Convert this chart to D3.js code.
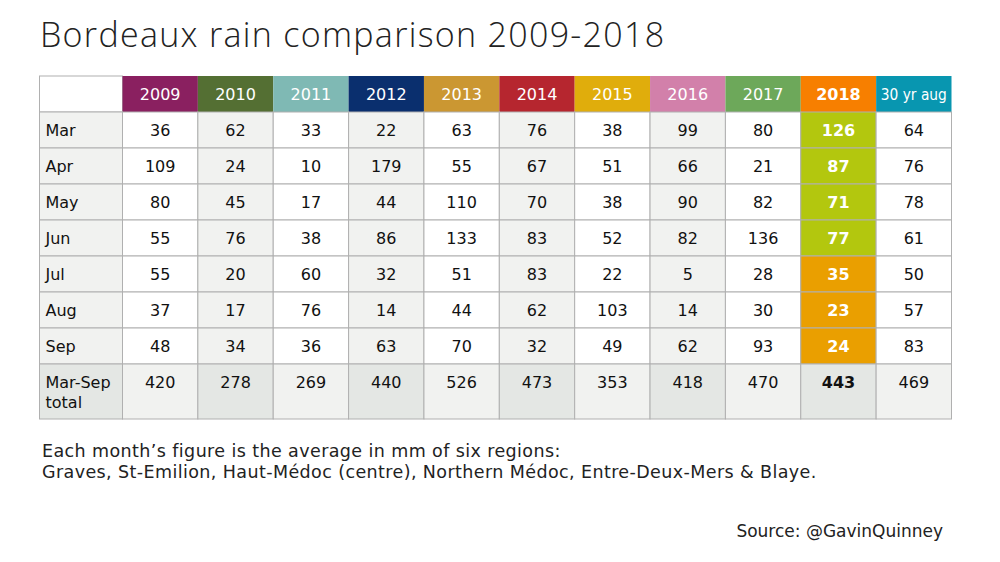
<!DOCTYPE html>
<html lang="en">
<head>
    <meta charset="UTF-8">
    <title>Bordeaux rain comparison 2009-2018</title>
    <script src="https://d3js.org/d3.v7.min.js"></script>
    <style>
        body {
            margin: 0;
            background: #fff;
            font-family: 'DejaVu Sans', sans-serif;
        }
        .cell-text {
            font-size: 16px;
            fill: #111;
        }
    </style>
</head>
<body>
<svg id="chart" width="1000" height="562"></svg>

<script>
    // Data
    const years = ["2009", "2010", "2011", "2012", "2013", "2014", "2015", "2016", "2017", "2018", "30 yr aug"];
    const months = ["Mar", "Apr", "May", "Jun", "Jul", "Aug", "Sep"];
    const rain = {
        "2009":      [36, 109, 80, 55, 55, 37, 48],
        "2010":      [62, 24, 45, 76, 20, 17, 34],
        "2011":      [33, 10, 17, 38, 60, 76, 36],
        "2012":      [22, 179, 44, 86, 32, 14, 63],
        "2013":      [63, 55, 110, 133, 51, 44, 70],
        "2014":      [76, 67, 70, 83, 83, 62, 32],
        "2015":      [38, 51, 38, 52, 22, 103, 49],
        "2016":      [99, 66, 90, 82, 5, 14, 62],
        "2017":      [80, 21, 82, 136, 28, 30, 93],
        "2018":      [126, 87, 71, 77, 35, 23, 24],
        "30 yr aug": [64, 76, 78, 61, 50, 57, 83]
    };
    const totals = [420, 278, 269, 440, 526, 473, 353, 418, 470, 443, 469];
    const headerColors = ["#8a2060", "#546f33", "#7fb9b4", "#0a2f6e", "#cb9732", "#b6262f",
                          "#e0ad0c", "#d280aa", "#6da85a", "#f77f00", "#0896b0"];

    const svg = d3.select("#chart");

    // title
    svg.append("text")
        .attr("x", 40)
        .attr("y", 47)
        .attr("font-family", "'Open Sans', sans-serif")
        .attr("font-size", 34)
        .attr("font-weight", 300)
        .attr("letter-spacing", 1.3)
        .attr("fill", "#222")
        .text("Bordeaux rain comparison 2009-2018");

    // layout scales
    const left = 39.5, labelW = 83, right = 951.5;
    const x = d3.scaleBand().domain(years).range([left + labelW, right]);
    const rowKeys = ["head"].concat(months);
    const y = d3.scaleBand().domain(rowKeys).range([76, 364]);
    const totalTop = 364, totalBottom = 419;

    const grid = "#b0b0b0";
    const light = "#f1f2f0", dark = "#e4e7e4";

    // header row
    svg.append("rect")
        .attr("x", left).attr("y", y("head"))
        .attr("width", labelW).attr("height", y.bandwidth())
        .attr("fill", "#fff").attr("stroke", grid);

    svg.selectAll(".head")
        .data(years)
        .join("rect")
        .attr("x", d => x(d)).attr("y", y("head"))
        .attr("width", x.bandwidth()).attr("height", y.bandwidth())
        .attr("fill", (d, i) => headerColors[i]);

    svg.selectAll(".head-text")
        .data(years)
        .join("text")
        .attr("x", d => x(d) + x.bandwidth() / 2)
        .attr("y", y("head") + y.bandwidth() / 2 + 6)
        .attr("text-anchor", "middle")
        .attr("font-size", d => d === "30 yr aug" ? 15 : 16)
        .attr("font-weight", d => d === "2018" ? 700 : 400)
        .attr("fill", "#fff")
        .each(function (d) {
            if (d === "30 yr aug") d3.select(this).attr("textLength", 66).attr("lengthAdjust", "spacingAndGlyphs");
        })
        .text(d => d);

    // month rows
    months.forEach((m, mi) => {
        svg.append("rect")
            .attr("x", left).attr("y", y(m))
            .attr("width", labelW).attr("height", y.bandwidth())
            .attr("fill", light).attr("stroke", grid);

        svg.append("text")
            .attr("class", "cell-text")
            .attr("x", left + 6)
            .attr("y", y(m) + y.bandwidth() / 2 + 6)
            .text(m);

        years.forEach((yr, i) => {
            let fill = i % 2 === 1 ? light : "#fff";
            if (yr === "2018") fill = mi < 4 ? "#b3c70e" : "#ea9f00";
            svg.append("rect")
                .attr("x", x(yr)).attr("y", y(m))
                .attr("width", x.bandwidth()).attr("height", y.bandwidth())
                .attr("fill", fill).attr("stroke", grid);

            svg.append("text")
                .attr("class", "cell-text")
                .attr("x", x(yr) + x.bandwidth() / 2)
                .attr("y", y(m) + y.bandwidth() / 2 + 6)
                .attr("text-anchor", "middle")
                .attr("font-weight", yr === "2018" ? 700 : 400)
                .style("fill", yr === "2018" ? "#fff" : "#111")
                .text(rain[yr][mi]);
        });
    });

    // total row
    svg.append("rect")
        .attr("x", left).attr("y", totalTop)
        .attr("width", labelW).attr("height", totalBottom - totalTop)
        .attr("fill", dark).attr("stroke", grid);

    svg.append("text")
        .attr("class", "cell-text")
        .attr("x", left + 6)
        .attr("y", totalTop + 24)
        .text("Mar-Sep");
    svg.append("text")
        .attr("class", "cell-text")
        .attr("x", left + 6)
        .attr("y", totalTop + 44)
        .text("total");

    svg.selectAll(".total")
        .data(years)
        .join("rect")
        .attr("x", d => x(d)).attr("y", totalTop)
        .attr("width", x.bandwidth()).attr("height", totalBottom - totalTop)
        .attr("fill", (d, i) => i % 2 === 1 ? dark : light)
        .attr("stroke", grid);

    svg.selectAll(".total-text")
        .data(years)
        .join("text")
        .attr("class", "cell-text")
        .attr("x", d => x(d) + x.bandwidth() / 2)
        .attr("y", totalTop + 24)
        .attr("text-anchor", "middle")
        .attr("font-weight", d => d === "2018" ? 700 : 400)
        .text((d, i) => totals[i]);

    // notes
    const notes = [
        "Each month\u2019s figure is the average in mm of six regions:",
        "Graves, St-Emilion, Haut-Médoc (centre), Northern Médoc, Entre-Deux-Mers & Blaye."
    ];
    svg.selectAll(".note")
        .data(notes)
        .join("text")
        .attr("x", 42)
        .attr("y", (d, i) => 457 + i * 21)
        .attr("font-size", 17.5)
        .attr("letter-spacing", 0.4)
        .attr("fill", "#222")
        .text(d => d);

    svg.append("text")
        .attr("x", 943)
        .attr("y", 537)
        .attr("text-anchor", "end")
        .attr("font-size", 17)
        .attr("fill", "#222")
        .text("Source: @GavinQuinney");
</script>
</body>
</html>
